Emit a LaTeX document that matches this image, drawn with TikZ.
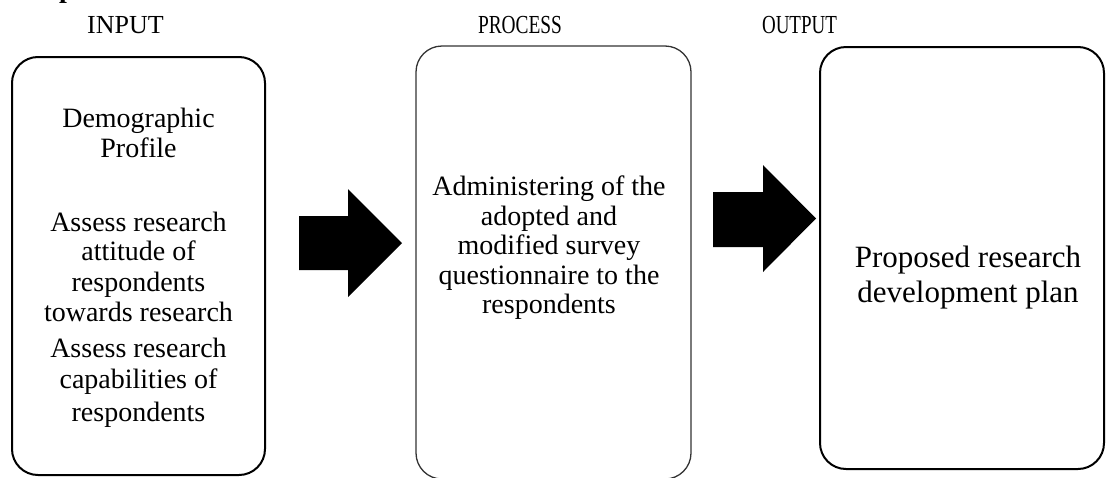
\documentclass[tikz,border=0pt]{standalone}
\usepackage{fontspec}
\setmainfont{Liberation Serif}
\begin{document}
\begin{tikzpicture}[x=1pt,y=-1pt,
  frame/.style={draw, rounded corners=26pt, line width=2pt, inner sep=0pt},
  thinframe/.style={draw=black!80, rounded corners=26pt, line width=1.3pt, inner sep=0pt},
  txt/.style={font=\fontsize{28}{30}\selectfont, inner sep=0pt, anchor=base},
  bigtxt/.style={font=\fontsize{31}{35}\selectfont, inner sep=0pt, anchor=base},
  head/.style={font=\fontsize{26}{28}\selectfont, inner sep=0pt, anchor=base},
  blockarrow/.style={fill=black}]
\useasboundingbox (0,0) rectangle (1106,477);

% cut-off heading fragment
\node[font=\fontsize{28}{30}\selectfont\bfseries, inner sep=0pt, anchor=base west] (frag) at (59,-3) {p};

% headings
\node[head] (hin) at (125.5,33) {INPUT};
\node[head] (hpr) at (520,33) {\scalebox{0.745}[1]{PROCESS}};
\node[head] (hout) at (799.5,33) {\scalebox{0.73}[1]{OUTPUT}};

% boxes
\node[frame, minimum width=253pt, minimum height=418pt] (inbox) at (138.5,266) {};
\node[thinframe, minimum width=275pt, minimum height=433pt] (prbox) at (553.5,262.5) {};
\node[frame, minimum width=284pt, minimum height=422pt] (outbox) at (962,258) {};

% input text
\node[txt] (i1) at (138.5,127) {Demographic};
\node[txt] (i2) at (138.5,157) {Profile};
\node[txt] (i3) at (138.5,231) {Assess research};
\node[txt] (i4) at (138.5,260) {attitude of};
\node[txt] (i5) at (138.5,291) {respondents};
\node[txt] (i6) at (138.5,321) {towards research};
\node[txt] (i7) at (138.5,357) {Assess research};
\node[txt] (i8) at (138.5,388) {capabilities of};
\node[txt] (i9) at (138.5,421) {respondents};

% process text
\node[txt] (p1) at (549,195) {Administering of the};
\node[txt] (p2) at (549,225) {adopted and};
\node[txt] (p3) at (549,254.5) {modified survey};
\node[txt] (p4) at (549,284) {questionnaire to the};
\node[txt] (p5) at (549,313) {respondents};

% output text
\node[bigtxt] (o1) at (968,267) {Proposed research};
\node[bigtxt] (o2) at (968,302) {development plan};

% block arrows
\fill[blockarrow] (299,216) -- (348,216) -- (348,189) -- (402,243) -- (348,297) -- (348,270) -- (299,270) -- cycle;
\fill[blockarrow] (713,192) -- (763,192) -- (763,165) -- (816,218.5) -- (763,272) -- (763,247) -- (713,247) -- cycle;
\end{tikzpicture}
\end{document}
